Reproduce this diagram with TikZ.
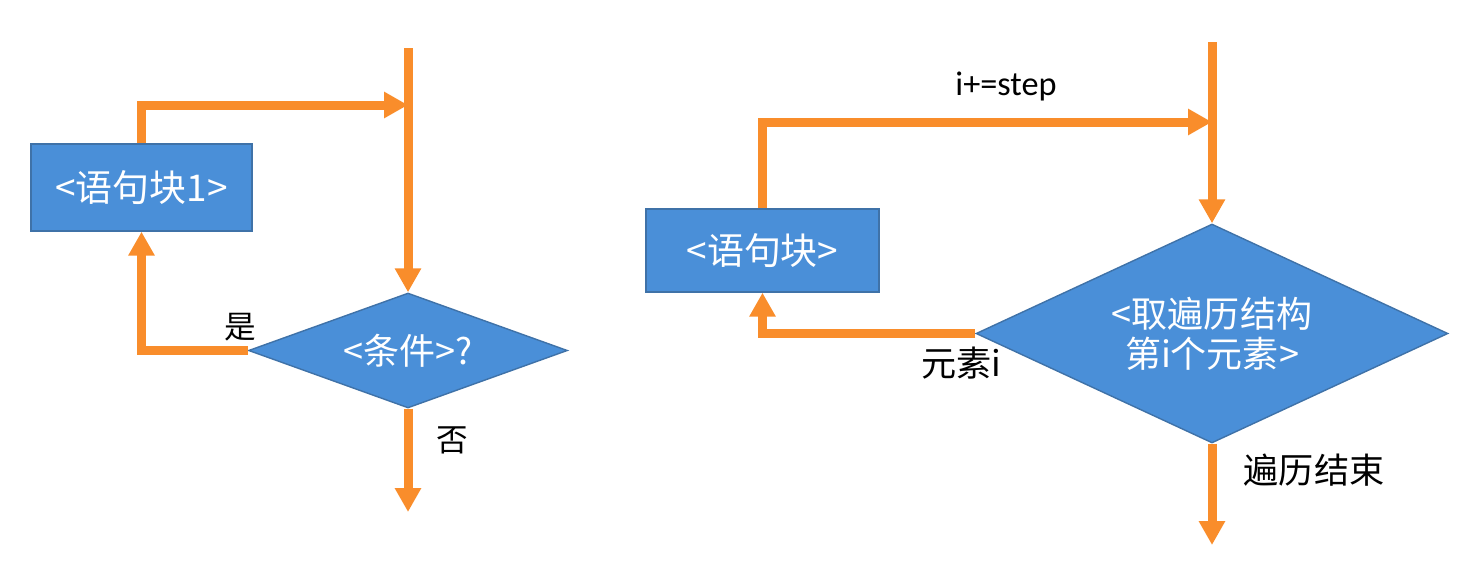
\documentclass[tikz,border=0pt]{standalone}
\usepackage{fontspec}
\setmainfont{Noto Sans CJK SC}
\newfontfamily\latin{Carlito}
\usetikzlibrary{arrows.meta,shapes.geometric}
\definecolor{boxblue}{HTML}{4A8FD8}
\definecolor{edge}{HTML}{3F72A8}
\definecolor{flowor}{HTML}{F98D2B}

\begin{document}
\begin{tikzpicture}[x=0.02cm,y=-0.02cm,block/.style={draw=edge,thick,fill=boxblue,text=white,font=\fontsize{21}{25}\selectfont},test/.style={diamond,draw=edge,thick,fill=boxblue,text=white,inner sep=0pt,align=center,font=\fontsize{20.5}{23}\selectfont},flow/.style={line width=0.18cm,flowor,-{Triangle[length=0.48cm,width=0.5cm]}},note/.style={font=\fontsize{18}{20}\selectfont}]
 \useasboundingbox (0,0) rectangle (1475,582);
 % left: while loop
 \node[block,minimum width=4.42cm,minimum height=1.74cm] (block1) at (141.5,187.5) {<语句块1>};
 \node[test,aspect=2.77,minimum width=6.38cm,minimum height=2.3cm] (cond) at (408,350.5) {<条件>?};
 \coordinate (top1) at (408,48);
 \coordinate (join1) at (408,105);
 \coordinate (end1) at (408,512);
 \draw[flow] (top1) -- (cond.north);
 \draw[flow] (block1.north) |- (join1);
 \draw[flow] (cond.west) -| (block1.south);
 \draw[flow] (cond.south) -- (end1);
 \node[note] (yes) at (240,327) {是};
 \node[note] (no) at (452,440) {否};
 % right: for loop
 \node[block,minimum width=4.66cm,minimum height=1.66cm] (block2) at (762.5,250.5) {<语句块>};
 \node[test,aspect=2.155,minimum width=9.44cm,minimum height=4.38cm] (fetch) at (1212,333.5) {<取遍历结构\\第i个元素>};
 \coordinate (top2) at (1212,42);
 \coordinate (join2) at (1212,122);
 \coordinate (end2) at (1212,545);
 \draw[flow] (top2) -- (fetch.north);
 \draw[flow] (block2.north) |- (join2);
 \draw[flow] (fetch.west) -| (block2.south);
 \draw[flow] (fetch.south) -- (end2);
 \node[font=\latin\fontsize{19.5}{22}\selectfont] (incr) at (1006,86) {i+=step};
 \node[note,font=\fontsize{20}{22}\selectfont] (elem) at (961,363) {元素i};
 \node[note,font=\fontsize{20}{22}\selectfont] (done) at (1314,470) {遍历结束};
\end{tikzpicture}
\end{document}
